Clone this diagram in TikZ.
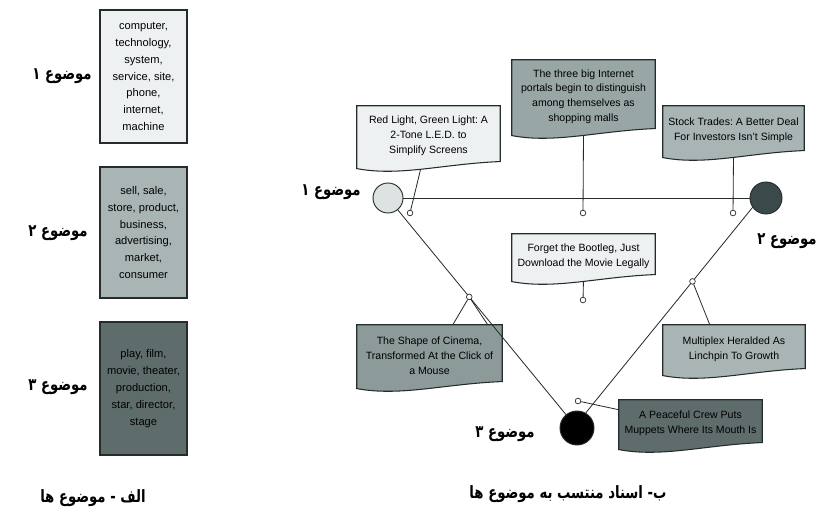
\documentclass[tikz,border=0pt]{standalone}
\usepackage{fontspec}
\setmainfont{Liberation Sans}
\newfontfamily\fafont[Script=Arabic, FakeStretch=0.78]{DejaVu Sans}
\TeXXeTstate=1
\frenchspacing
\usetikzlibrary{calc}
\definecolor{tplight}{HTML}{EEF1F1}
\definecolor{tpmid}{HTML}{A9B5B5}
\definecolor{tpmidd}{HTML}{98A6A6}
\definecolor{tpcine}{HTML}{8C9A9A}
\definecolor{tpdark}{HTML}{5E6C6C}
\definecolor{tpslate}{HTML}{3A4949}
\definecolor{tpline}{HTML}{262B2B}

\pgfdeclarelayer{stems}
\pgfdeclarelayer{shapes}
\pgfsetlayers{stems,shapes,main}

\tikzset{
  wordbox/.style={draw=tpline, line width=1.1pt, minimum width=2.61cm, align=center, font=\fontsize{9.5}{14.4}\selectfont},
  doc/.style={align=center, minimum width=4.29cm, inner sep=0pt, font=\fontsize{9}{12.6}\selectfont},
  topic/.style={circle, draw=tpline, line width=0.8pt, inner sep=0pt},
  dot/.style={circle, draw=tpline, fill=white, line width=0.6pt, minimum size=0.17cm, inner sep=0pt},
  link/.style={draw=tpline, line width=0.7pt},
  falabel/.style={font=\fafont\bfseries\fontsize{14.5}{16}\selectfont},
}

% document shape: flat top, wavy bottom
\newcommand{\docshape}[2]{%
  \path[draw=tpline, line width=0.9pt, fill=#2] (#1.north west) -- (#1.north east)
    -- ([yshift=4pt]#1.south east)
    .. controls ([yshift=2pt]$(#1.south west)!0.6!(#1.south east)$)
    and ([yshift=-9pt]$(#1.south west)!0.3!(#1.south east)$)
    .. ([yshift=-2pt]#1.south west) -- cycle;}

\begin{document}
\begin{tikzpicture}[x=0.03cm, y=-0.03cm]
\useasboundingbox (0,0) rectangle (821,511);

% Word lists of the topics
\node[wordbox, fill=tplight, minimum height=3.99cm] (words1) at (143.5,76.5) {computer,\\technology,\\system,\\service, site,\\phone,\\internet,\\machine};
\node[wordbox, fill=tpmid, minimum height=3.93cm] (words2) at (143.5,232.5) {sell, sale,\\store, product,\\business,\\advertising,\\market,\\consumer};
\node[wordbox, fill=tpdark, minimum height=3.99cm] (words3) at (143.5,388.5) {play, film,\\movie, theater,\\production,\\star, director,\\stage};

\node[falabel] (wlab1) at (62,76) {\beginR موضوع ۱\endR};
\node[falabel] (wlab2) at (58,233) {\beginR موضوع ۲\endR};
\node[falabel] (wlab3) at (58,387) {\beginR موضوع ۳\endR};
\node[falabel] (capA) at (93,498) {\beginR الف - موضوع ها\endR};

% Topics
\node[topic, fill=tplight!75!tpmid, minimum size=0.9cm] (t1) at (388,198) {};
\node[topic, fill=tpslate, minimum size=0.96cm] (t2) at (766,198) {};
\node[topic, fill=black, minimum size=1.02cm] (t3) at (577,428) {};

\node[falabel] (tlab1) at (331,192) {\beginR موضوع ۱\endR};
\node[falabel] (tlab2) at (787,241) {\beginR موضوع ۲\endR};
\node[falabel] (tlab3) at (505,434) {\beginR موضوع ۳\endR};
\node[falabel] (capB) at (568,494) {\beginR ب- اسناد منتسب به موضوع ها\endR};

% Documents
\node[doc, minimum height=1.8cm] (c1) at (428.5,136) {Red Light, Green Light: A\\2-Tone L.E.D. to\\Simplify Screens};
\node[doc, minimum height=2.19cm] (c2) at (583.5,96.5) {The three big Internet\\portals begin to distinguish\\among themselves as\\shopping malls};
\node[doc, minimum width=4.23cm, minimum height=1.47cm] (c3) at (733.5,130.5) {Stock Trades: A Better Deal\\For Investors Isn't Simple};
\node[doc, minimum height=1.35cm] (c4) at (583.5,256.5) {Forget the Bootleg, Just\\Download the Movie Legally};
\node[doc, minimum width=4.35cm, minimum height=1.83cm] (c5) at (429.5,355.5) {The Shape of Cinema,\\Transformed At the Click of\\a Mouse};
\node[doc, minimum width=4.26cm, minimum height=1.44cm] (c6) at (734,349) {Multiplex Heralded As\\Linchpin To Growth};
\node[doc, minimum height=1.41cm] (c7) at (690.5,423.5) {A Peaceful Crew Puts\\Muppets Where Its Mouth Is};

% Topic links
\draw[link] (t1) -- (t2);
\draw[link] (t1) -- (t3);
\draw[link] (t2.215) -- (t3.60);

% Attachment points
\node[dot] (d1) at (410,213) {};
\node[dot] (d2) at (583,213) {};
\node[dot] (d3) at (733,213) {};
\node[dot] (d4) at (583,300) {};
\node[dot] (d5) at ($(t1)!0.43!(t3)$) {};
\node[dot] (d6) at ($(t2.215)!0.36!(t3.60)$) {};
\node[dot] (d7) at (578,401) {};

\begin{pgfonlayer}{shapes}
\docshape{c1}{tplight}
\docshape{c2}{tpmidd}
\docshape{c3}{tpmid}
\docshape{c4}{tplight}
\docshape{c5}{tpcine}
\docshape{c6}{tpmid}
\docshape{c7}{tpdark}
\end{pgfonlayer}

% Stems to documents
\begin{pgfonlayer}{stems}
\draw[link] (d1) -- ($(c1.south west)!0.45!(c1.south east)$);
\draw[link] (d2) -- (c2.south);
\draw[link] (d3) -- (c3.south);
\draw[link] (d4) -- (c4.south);
\draw[link] (d5) -- ($(c5.north west)!0.66!(c5.north east)$);
\draw[link] (d5) -- ($(c5.north west)!0.9!(c5.north east)$);
\draw[link] (d6) -- ($(c6.north west)!0.33!(c6.north east)$);
\draw[link] (d7) -- ($(c7.north west)!0.21!(c7.south west)$);
\end{pgfonlayer}
\end{tikzpicture}
\end{document}
